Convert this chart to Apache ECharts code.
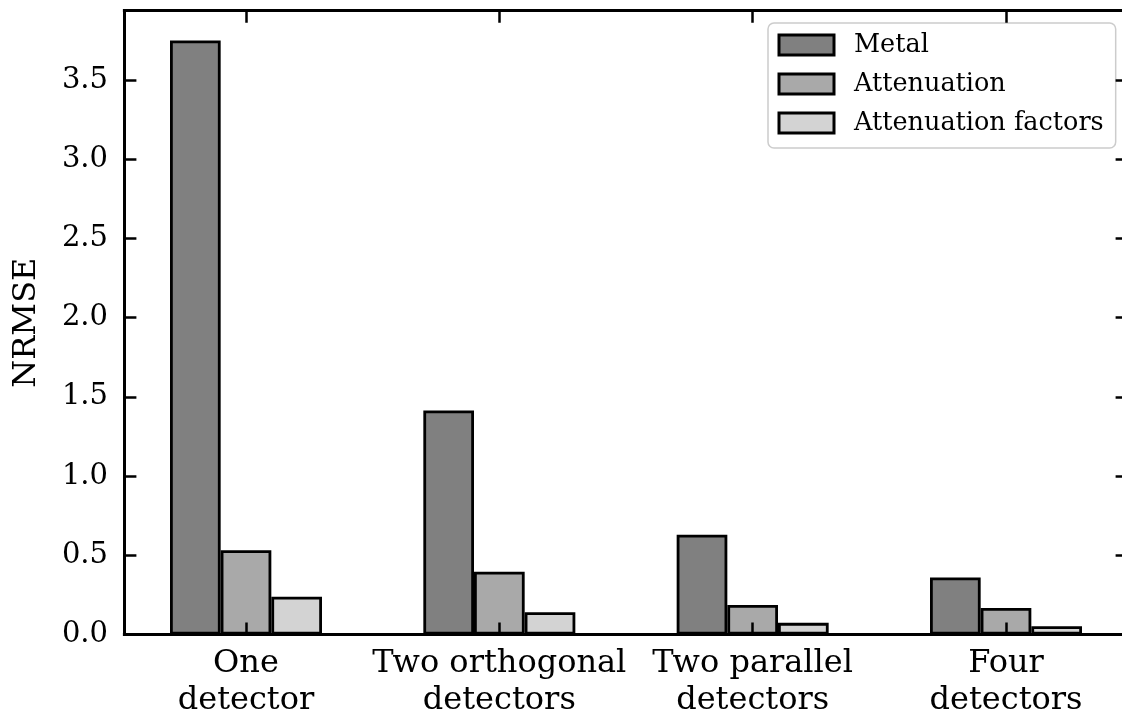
<!DOCTYPE html>
<html>
<head>
<meta charset="utf-8">
<script src="https://cdn.jsdelivr.net/npm/echarts@6/dist/echarts.min.js"></script>
<style>
  html, body { margin: 0; padding: 0; background: #ffffff; overflow: hidden; }
  /* the frame's right edge sits just past the visible width */
  #chart { width: 1136px; height: 719px; }
</style>
</head>
<body>
<div id="chart"></div>
<script>
// Detector configurations (one group of bars per configuration)
const categories = ['One\ndetector', 'Two orthogonal\ndetectors', 'Two parallel\ndetectors', 'Four\ndetectors'];
const seriesNames = ['Metal', 'Attenuation', 'Attenuation factors'];

// NRMSE per configuration
const metal = [3.75, 1.415, 0.63, 0.361];
const attenuation = [0.533, 0.397, 0.187, 0.168];
const attenuationFactors = [0.239, 0.141, 0.074, 0.053];

// Tick positions
const yTicks = [0, 0.5, 1.0, 1.5, 2.0, 2.5, 3.0, 3.5];
const xTicks = [0, 1, 2, 3];

const palette = ['#808080', '#a9a9a9', '#d3d3d3'];
const FONT = 'DejaVu Serif';

const chart = echarts.init(document.getElementById('chart'), null, { renderer: 'canvas' });

const spine = { show: true, onZero: false, lineStyle: { color: '#000', width: 3, cap: 'square' } };
const inTick = (vals) => ({ show: true, inside: true, length: 12, customValues: vals, lineStyle: { color: '#000', width: 2.5 } });

function barSeries(name, values, color) {
  return {
    name: name,
    type: 'bar',
    xAxisIndex: 0,
    yAxisIndex: 0,
    barWidth: '20%',
    barGap: '0%',
    data: values.map((v, i) => [xTicks[i], v]),
    itemStyle: { color: color, borderColor: '#000', borderWidth: 2.8 }
  };
}

const option = {
  animation: false,
  backgroundColor: '#ffffff',
  grid: { left: 124.4, top: 10.7, width: 1003.2, height: 625 },
  legend: {
    data: seriesNames,
    orient: 'vertical',
    left: 768,
    top: 23,
    icon: 'rect',
    itemWidth: 55,
    itemHeight: 20,
    itemGap: 13,
    padding: [9, 12, 12, 9.5],
    backgroundColor: '#ffffff',
    borderColor: '#cccccc',
    borderWidth: 1.5,
    borderRadius: 6,
    itemStyle: { borderColor: '#000', borderWidth: 3 },
    textStyle: { fontFamily: FONT, fontSize: 25.5, color: '#000', padding: [0, 0, 0, 15] }
  },
  xAxis: [
    {
      type: 'value', position: 'bottom', min: -0.48, max: 3.48, z: 10,
      axisLine: spine,
      axisTick: inTick(xTicks),
      splitLine: { show: false },
      axisLabel: {
        customValues: xTicks,
        formatter: (v) => categories[Math.round(v)],
        fontFamily: FONT, fontSize: 32, color: '#000', lineHeight: 36.7, margin: 11
      }
    },
    {
      type: 'value', position: 'top', min: -0.48, max: 3.48, z: 10,
      axisLine: spine,
      axisTick: inTick(xTicks),
      splitLine: { show: false },
      axisLabel: { show: false }
    }
  ],
  yAxis: [
    {
      type: 'value', position: 'left', min: 0, max: 3.9375, z: 10,
      axisLine: spine,
      axisTick: inTick(yTicks),
      splitLine: { show: false },
      axisLabel: {
        customValues: yTicks,
        formatter: (v) => v.toFixed(1),
        fontFamily: FONT, fontSize: 29, color: '#000', margin: 16.4
      },
      name: 'NRMSE',
      nameLocation: 'middle',
      nameRotate: 90,
      nameGap: 82,
      nameTextStyle: { fontFamily: FONT, fontSize: 32, color: '#000' }
    },
    {
      type: 'value', position: 'right', min: 0, max: 3.9375, z: 10,
      axisLine: spine,
      axisTick: inTick(yTicks),
      splitLine: { show: false },
      axisLabel: { show: false }
    }
  ],
  series: [
    barSeries(seriesNames[0], metal, palette[0]),
    barSeries(seriesNames[1], attenuation, palette[1]),
    barSeries(seriesNames[2], attenuationFactors, palette[2])
  ]
};

chart.setOption(option);
</script>
</body>
</html>
